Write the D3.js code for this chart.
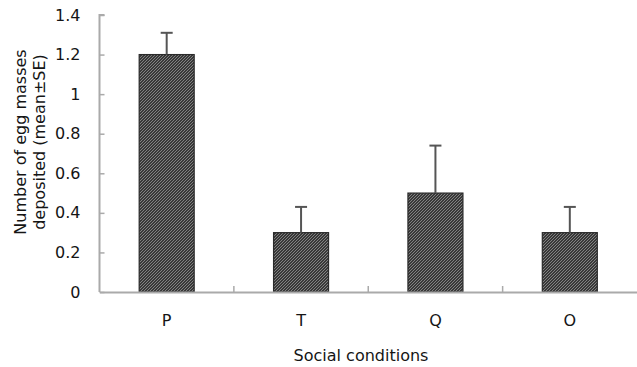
<!DOCTYPE html>
<html><head><meta charset="utf-8">
<script src="https://cdn.jsdelivr.net/npm/d3@7"></script>
<style>html,body{margin:0;padding:0;background:#fff;}svg{display:block;}</style>
</head><body>
<script>
const categories = ["P", "T", "Q", "O"];
const means = [1.2, 0.3, 0.5, 0.3];
const errors = [0.11, 0.13, 0.24, 0.13];
const yTicks = [0, 0.2, 0.4, 0.6, 0.8, 1, 1.2, 1.4];

const W = 637, H = 367;
const m = {left: 99.5, right: 0, top: 15, bottom: 75};
const svg = d3.select("body").append("svg").attr("width", W).attr("height", H);

const defs = svg.append("defs");
const pat = defs.append("pattern").attr("id", "hatch").attr("patternUnits", "userSpaceOnUse")
  .attr("width", 3).attr("height", 3);
pat.append("rect").attr("width", 3).attr("height", 3).attr("fill", "#383838");
pat.append("path").attr("d", "M-1,1 l2,-2 M0,3 l3,-3 M2,4 l2,-2")
  .attr("stroke", "#8a8a8a").attr("stroke-width", 0.9);

const x = d3.scaleBand().domain(categories).range([m.left, W - m.right]).paddingInner(0).paddingOuter(0);
const y = d3.scaleLinear().domain([0, 1.4]).range([292, 15]);
const barW = 55;

const font = "DejaVu Sans, Verdana, sans-serif";
const fs = 16;
const txt = "#151515";

// bars
svg.selectAll("rect.bar").data(categories).enter().append("rect")
  .attr("class", "bar")
  .attr("x", d => x(d) + x.bandwidth() / 2 - barW / 2)
  .attr("width", barW)
  .attr("y", (d, i) => y(means[i]))
  .attr("height", (d, i) => y(0) - y(means[i]))
  .attr("fill", "url(#hatch)")
  .attr("stroke", "#2a2a2a").attr("stroke-width", 1.2);

// error bars
const eb = svg.append("g").attr("stroke", "#555").attr("stroke-width", 2);
categories.forEach((c, i) => {
  const cx = x(c) + x.bandwidth() / 2;
  eb.append("line").attr("x1", cx).attr("x2", cx).attr("y1", y(means[i])).attr("y2", y(means[i] + errors[i]));
  eb.append("line").attr("x1", cx - 6).attr("x2", cx + 6).attr("y1", y(means[i] + errors[i])).attr("y2", y(means[i] + errors[i]));
});

// y axis
const yAxis = svg.append("g").attr("transform", `translate(${m.left},0)`)
  .call(d3.axisRight(y).tickValues(yTicks).tickSize(5).tickFormat(d => d3.format("")(d)));
yAxis.select(".domain").attr("stroke", "#aaa").attr("stroke-width", 2).attr("d", `M5,${y(1.4)}H0V${y(0)}`);
yAxis.selectAll(".tick line").attr("stroke", "#aaa").attr("stroke-width", 1.5);
yAxis.selectAll(".tick text").attr("x", -19).attr("text-anchor", "end")
  .attr("font-family", font).attr("font-size", fs).attr("fill", txt);

// x axis
const xAxis = svg.append("g").attr("transform", `translate(0,${y(0)})`)
  .call(d3.axisBottom(x).tickSize(0).tickPadding(23));
xAxis.select(".domain").attr("stroke", "#aaa").attr("stroke-width", 2);
xAxis.selectAll(".tick text").attr("font-family", font).attr("font-size", fs).attr("fill", txt);
// boundary ticks between categories (inward)
svg.append("g").selectAll("line").data(categories.slice(1)).enter().append("line")
  .attr("x1", d => x(d)).attr("x2", d => x(d)).attr("y1", y(0)).attr("y2", y(0) - 6)
  .attr("stroke", "#aaa").attr("stroke-width", 1.5);

// axis titles
svg.append("text").attr("x", 361).attr("y", 361).attr("text-anchor", "middle")
  .attr("font-family", font).attr("font-size", fs).attr("fill", txt).text("Social conditions");
const yt = svg.append("text").attr("transform", "translate(0,142) rotate(-90)").attr("text-anchor", "middle")
  .attr("font-family", font).attr("font-size", fs).attr("fill", txt);
yt.append("tspan").attr("x", 0).attr("y", 26).text("Number of egg masses");
yt.append("tspan").attr("x", 0).attr("y", 45).text("deposited (mean±SE)");
</script>
</body></html>
